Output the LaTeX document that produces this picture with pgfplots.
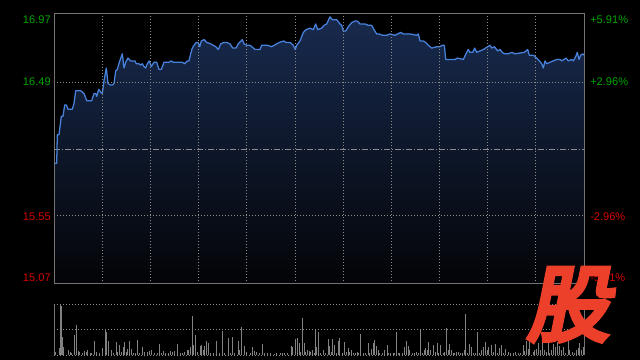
\documentclass[border=0pt]{standalone}
\usepackage{fontspec}
\setmainfont{Liberation Sans}
\newfontfamily\cjk[FakeSlant=0.2,FakeBold=6]{Noto Sans CJK SC}
\usepackage{pgfplots}
\usepackage{pgfplotstable}
\pgfplotsset{compat=1.18}
\definecolor{upgreen}{RGB}{0,165,0}
\definecolor{downred}{RGB}{215,0,0}
\definecolor{frameg}{RGB}{115,115,115}
\definecolor{gridg}{RGB}{140,140,140}
\definecolor{lineblue}{RGB}{72,130,220}
\definecolor{filltop}{RGB}{24,42,78}
\definecolor{fillbot}{RGB}{3,4,6}
\definecolor{volg}{RGB}{130,130,130}
\definecolor{logored}{RGB}{236,64,42}

\pgfplotstableread{
x p
0 15.92
2.7 15.92
3.3 16.12
5 16.12
7.3 16.25
9 16.25
10.7 16.33
12.3 16.33
14 16.30
18.3 16.30
20 16.34
21.7 16.43
26.7 16.43
30 16.41
32.7 16.36
37.7 16.36
40 16.41
41.7 16.41
42.7 16.39
44.7 16.44
46.7 16.42
48.3 16.41
50 16.50
52.3 16.59
54 16.48
56.7 16.47
58.3 16.47
60 16.48
61.7 16.57
63.3 16.58
65.3 16.63
68.3 16.69
70 16.59
71.7 16.63
74 16.66
76.7 16.64
81 16.64
82.3 16.62
85 16.62
86.7 16.61
88.3 16.62
90 16.60
91.7 16.59
93.3 16.62
95.3 16.64
97.3 16.60
100 16.63
102.7 16.63
105 16.58
107.3 16.58
110 16.63
115 16.63
117.3 16.64
119.3 16.63
128.3 16.63
130.7 16.62
133.3 16.64
135 16.64
136.7 16.69
138.3 16.73
140 16.75
142.3 16.77
144 16.77
145.7 16.74
147.3 16.78
150 16.79
152.7 16.77
156.7 16.76
161.7 16.74
164.3 16.72
166.7 16.76
170 16.77
172.7 16.77
176 16.76
178.7 16.73
182 16.73
184.3 16.76
188.3 16.79
190 16.76
192.7 16.75
196 16.75
197.7 16.74
201 16.72
206 16.72
207.7 16.75
213.3 16.75
217.7 16.74
222.7 16.76
225.3 16.77
230 16.78
231.7 16.77
236 16.77
239.3 16.75
241.3 16.72
242.7 16.75
246 16.78
249.3 16.84
252 16.86
256 16.87
259.3 16.86
261.7 16.90
263.7 16.86
267.7 16.87
270 16.89
272.7 16.90
276 16.95
278.3 16.93
282.7 16.93
286 16.90
287.7 16.89
289.3 16.85
291.7 16.85
294.3 16.88
297.7 16.91
301 16.92
303.3 16.92
306 16.90
311 16.90
314.3 16.89
317.7 16.89
320 16.86
322.7 16.83
325 16.83
328.7 16.82
332.7 16.82
336 16.83
341 16.82
346.7 16.84
349.3 16.83
356 16.83
362.7 16.82
364.3 16.83
366 16.78
369.3 16.78
371.7 16.77
374.3 16.75
377.7 16.73
382.7 16.74
386 16.74
388.3 16.75
390.3 16.75
391.7 16.65
401 16.65
403.3 16.66
409.3 16.65
412 16.69
414.3 16.72
416 16.70
418.7 16.70
420.7 16.73
422.7 16.70
426 16.71
429.3 16.72
433.7 16.74
436 16.75
437.7 16.73
440.3 16.74
443.7 16.71
446 16.72
448.3 16.70
450.3 16.69
454.3 16.69
457.7 16.70
461 16.69
470.3 16.70
473.7 16.72
475.3 16.68
479.3 16.68
482.7 16.66
485.3 16.64
487.7 16.62
489.3 16.59
491 16.64
492.7 16.62
496 16.63
499.3 16.64
502.7 16.65
506 16.65
507.7 16.64
512 16.66
514.3 16.64
517.7 16.65
519.3 16.64
521.7 16.67
523.3 16.70
525 16.65
526.7 16.68
528.7 16.69
530 16.68
}\price

\pgfplotstableread{
x v
0.7 8.3
1.7 3.3
5 6.7
6 50
7.3 48.3
8.3 18.3
9.3 8.3
14 5
16 3.3
17.3 2.3
20.7 20
22 30
24 4
25.3 2.7
28.7 2.3
30.7 4
32 2.7
33.3 5
36 2.3
37.7 1.7
40 14
42.7 3.3
45 1.7
48.3 6.7
51 25.7
52.7 23.3
54 14.3
57.3 5
59 1.7
62 13
63.3 3.3
65.3 10
67.3 3.3
69 8.3
70.3 13.3
72 3.3
73.3 5.7
75.3 14.3
77.3 5.7
79.3 1.7
81.3 2.3
83.3 15
85.3 2.3
88.3 8.3
90 3.3
93.3 2.7
95.3 4.3
97.3 5
100 2.3
103.3 2.3
105.3 11
107.3 1.7
109.3 4
111.7 2.3
114 1.7
116.7 4
118.7 2.7
120.7 4
123.3 11
126 1.7
128.3 2.3
130.7 3.3
133.3 5
134.7 5
136.7 8.3
138.3 38.3
139.3 10
141.7 20
143.3 3.3
146 9
147.3 10
149.3 5
150.7 9
152.7 14.3
154.3 12.3
156.7 1.7
159.3 1.7
162.3 14
165 1.7
168.3 24.3
170.7 1.7
174 16.7
176 2.3
178.3 17.7
180.7 2.3
184 14.3
185.7 5
187.3 27.7
190 9
192.7 3.3
196 2.3
198.3 8.3
200.7 4
202.7 3.3
205.3 1.7
208.3 11
210.7 2.3
213.3 1.7
216.7 1.7
220 1
222.7 2.3
226 1.7
228.3 2.3
230.7 1.7
233.3 2.3
237 9
238.7 8.3
241.7 15.7
243 16.7
245 12.3
246.7 3.3
248.3 36.7
250 12.3
251.7 3.3
253.3 5
255 4.3
256.7 2.7
258.7 5
260 2.3
261.7 25
262.7 8.3
264.5 23.3
266.7 2.3
269 5
271.3 2.3
274 15.7
275.7 9
277.3 3.3
278.7 15.7
280 10
282.3 2.3
284.7 14.3
285.7 16.7
288 2.3
290 13.3
292.3 3.3
294 6.7
295.7 3.3
297.3 5
299 2.3
301.3 2.3
303.3 3.3
304.7 2.3
306.3 21
309 2.3
311.3 2.3
314 12.3
315.7 2.3
317.3 5.7
319 11.7
320.7 15
322.3 9
324 5
325.7 1.7
328 1.7
330.7 5
333 10
334.7 2.3
336.7 2.3
339 2.3
340.7 1.7
342.3 22.7
344 2.3
345.7 2.3
348 1.7
350 8.3
352 14.3
354 9
355.7 5
358 2.3
360 1.7
362.3 3.3
364.7 2.3
366.3 25
368 2.3
370 5
371.3 6.7
373.3 5
374.7 13.3
376.7 5
379 10
381.3 3.3
383 11.7
384.7 2.3
386.7 10
389 2.3
390.7 3.3
392.7 26.7
394 5
395.7 11
397.3 5
399 1.7
400.7 2.3
402.3 3.3
404 3.3
406.7 2.3
408.3 1.7
410 5
411.7 41
413.3 1.7
415.7 11
417.3 8.3
419.7 2.3
421.7 1.7
423.3 22.7
425.7 2.3
427.3 5
429 8.3
431.3 13.3
433.3 5
434.7 8.3
437.3 10
439 3.3
441.3 11
443.3 2.3
445.7 6.7
447.3 10
449.3 2.3
451.3 5.7
454 3.3
456.7 2.3
459 1.7
461.3 3.3
464 2.3
466.7 1.7
469 10
470.7 4.3
472.3 14.3
474 5.7
475.7 14.3
479 3.3
480.7 5
482.3 5.7
484.7 12.3
486.7 5
488 21
490.7 5
492.3 3.3
494 11.7
495.7 2.3
497.3 5
499 11
501.3 8.3
503.3 13.3
505.7 9
507.3 5
509 8.3
511.3 2.3
514 14.3
515.7 5
518 3.3
520 2.3
522.3 5
524 6.7
525.7 11.7
527.3 5
529.3 8.3
}\volume

\begin{document}
\begin{tikzpicture}
\fill[black] (0,0) rectangle (480pt,270pt);

% ---------- price axis ----------
\begin{axis}[
  at={(40.5pt,57pt)}, anchor=south west,
  width=397.5pt, height=202.5pt, scale only axis,
  xmin=0, xmax=530, ymin=15.07, ymax=16.97,
  axis line style={frameg, line width=0.75pt},
  xtick={48.18,96.36,144.55,192.73,240.91,289.09,337.27,385.45,433.64,481.82},
  ytick={15.55,16.49},
  xticklabels={}, yticklabels={},
  major tick length=0pt,
  xmajorgrids, ymajorgrids,
  grid style={gridg, line width=0.6pt, dash pattern=on 0.75pt off 1.5pt},
  clip=true,
  axis on top=true,
]
\addplot[draw=none, top color=filltop, bottom color=fillbot]
  table[x=x,y=p] {\price} -- (axis cs:530,15.07) -- (axis cs:0,15.07) -- cycle;
\addplot[gridg, line width=0.7pt, dash pattern=on 4.5pt off 1.5pt on 0.75pt off 1.5pt, forget plot]
  coordinates {(0,16.02) (530,16.02)};
\addplot[lineblue, line width=0.95pt, line join=round] table[x=x,y=p] {\price};
\end{axis}

% ---------- volume axis ----------
\begin{axis}[
  at={(40.5pt,3.75pt)}, anchor=south west,
  width=397.5pt, height=37.75pt, scale only axis,
  xmin=0, xmax=530, ymin=0, ymax=50,
  axis line style={draw=none},
  xtick=\empty, ytick={0,25,50}, yticklabels={},
  major tick length=0pt,
  ymajorgrids,
  grid style={gridg, line width=0.6pt, dash pattern=on 0.75pt off 1.5pt},
  clip=false,
]
\addplot[volg, line width=0.6pt, ycomb, mark=none] table[x=x,y=v] {\volume};
\draw[frameg, line width=0.75pt] (rel axis cs:0,0) -- (rel axis cs:0,1);
\draw[frameg, line width=0.75pt] (rel axis cs:1,0) -- (rel axis cs:1,1);
\end{axis}

% ---------- labels ----------
\begin{scope}[every node/.style={inner sep=0pt, font=\fontsize{8.3}{9}\selectfont}]
\node[anchor=east, text=upgreen]  at (38.2pt,255pt) {16.97};
\node[anchor=east, text=upgreen]  at (38.2pt,208.5pt) {16.49};
\node[anchor=east, text=downred] at (38.2pt,107.25pt) {15.55};
\node[anchor=east, text=downred] at (38.2pt,61.5pt) {15.07};
\node[anchor=west, text=upgreen]  at (442.5pt,255pt) {+5.91\%};
\node[anchor=west, text=upgreen]  at (442.5pt,208.5pt) {+2.96\%};
\node[anchor=west, text=downred] at (442.5pt,107.25pt) {-2.96\%};
\node[anchor=west, text=downred] at (442.5pt,61.5pt) {-5.91\%};
\end{scope}

% ---------- watermark logo ----------
\node[inner sep=0pt, text=logored, font=\cjk\fontsize{62}{62}\selectfont] at (426pt,41.5pt) {股};

\pgfresetboundingbox
\useasboundingbox (0,0) rectangle (480pt,270pt);
\end{tikzpicture}
\end{document}
